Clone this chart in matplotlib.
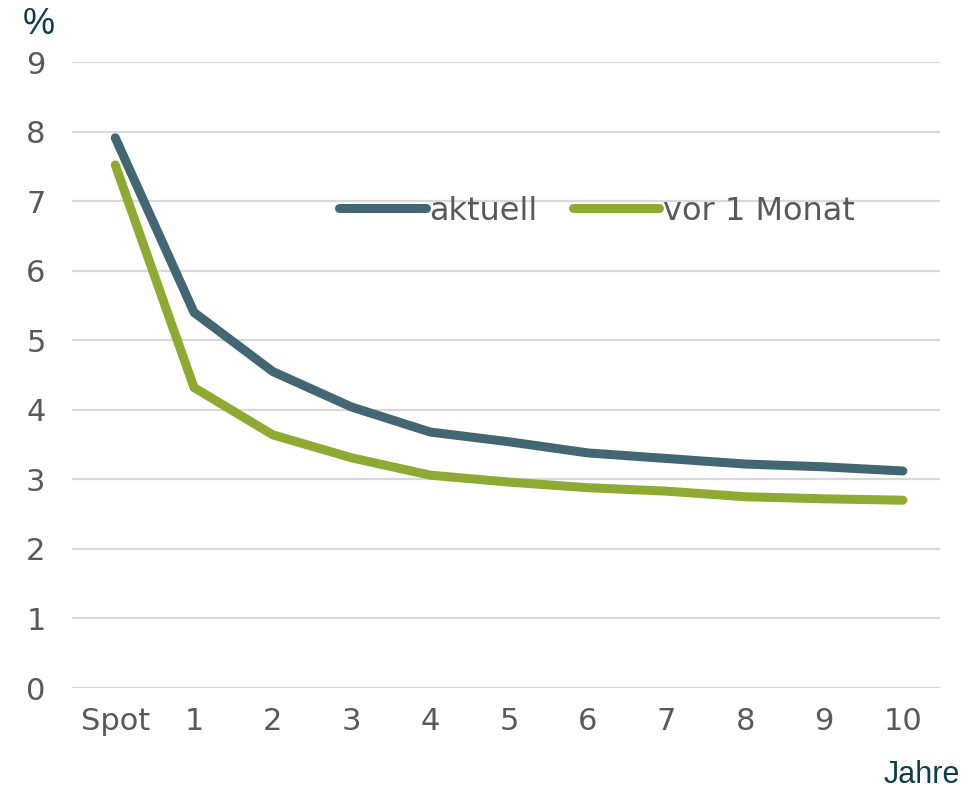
import matplotlib
matplotlib.use("Agg")
import matplotlib.pyplot as plt

# Zinsstrukturkurve: Laufzeiten und Renditen in %
categories = ["Spot", "1", "2", "3", "4", "5", "6", "7", "8", "9", "10"]
aktuell = [7.91, 5.40, 4.55, 4.04, 3.68, 3.54, 3.38, 3.30, 3.22, 3.18, 3.12]
vor_1_monat = [7.52, 4.32, 3.64, 3.31, 3.06, 2.96, 2.88, 2.83, 2.75, 2.72, 2.70]
y_ticks = [0, 1, 2, 3, 4, 5, 6, 7, 8, 9]

plt.rcParams["font.family"] = ["DejaVu Sans"]

TEXT_GREY = "#595959"
DARK_TEAL = "#0E3D4F"
C_AKT = "#436673"
C_VOR = "#8FAA33"

fig = plt.figure(figsize=(9.79, 7.92), dpi=100)
ax = fig.add_axes([0.0735, 0.1313, 0.8865, 0.7904])

x = list(range(len(categories)))
ax.plot(x, aktuell, color=C_AKT, lw=6.5, solid_capstyle="round",
        solid_joinstyle="round", label="aktuell", zorder=3)
ax.plot(x, vor_1_monat, color=C_VOR, lw=6.5, solid_capstyle="round",
        solid_joinstyle="round", label="vor 1 Monat", zorder=3)

ax.set_xlim(-0.55, 10.47)
ax.set_ylim(0, 9)
ax.set_xticks(x)
ax.set_xticklabels(categories)
ax.set_yticks(y_ticks)
ax.yaxis.grid(True, color="#D9D9D9", lw=1.6)
ax.set_axisbelow(True)
for s in ax.spines.values():
    s.set_visible(False)
ax.tick_params(axis="both", length=0, labelsize=22, labelcolor=TEXT_GREY)
ax.tick_params(axis="x", pad=14)
ax.tick_params(axis="y", pad=19)

leg = ax.legend(loc="center", bbox_to_anchor=(0.605, 0.762), ncol=2,
                frameon=False, fontsize=23, handlelength=2.7,
                handletextpad=0.12, columnspacing=1.1, borderpad=0,
                borderaxespad=0)
for t in leg.get_texts():
    t.set_color(TEXT_GREY)

fig.text(0.0235, 0.969, "%", fontsize=26, color=DARK_TEAL, ha="left",
         va="center", family="Liberation Sans")
fig.text(0.981, 0.0215, "Jahre", fontsize=22, color=DARK_TEAL, ha="right",
         va="center", family="Liberation Sans")

fig.savefig("out.png", dpi=100)
